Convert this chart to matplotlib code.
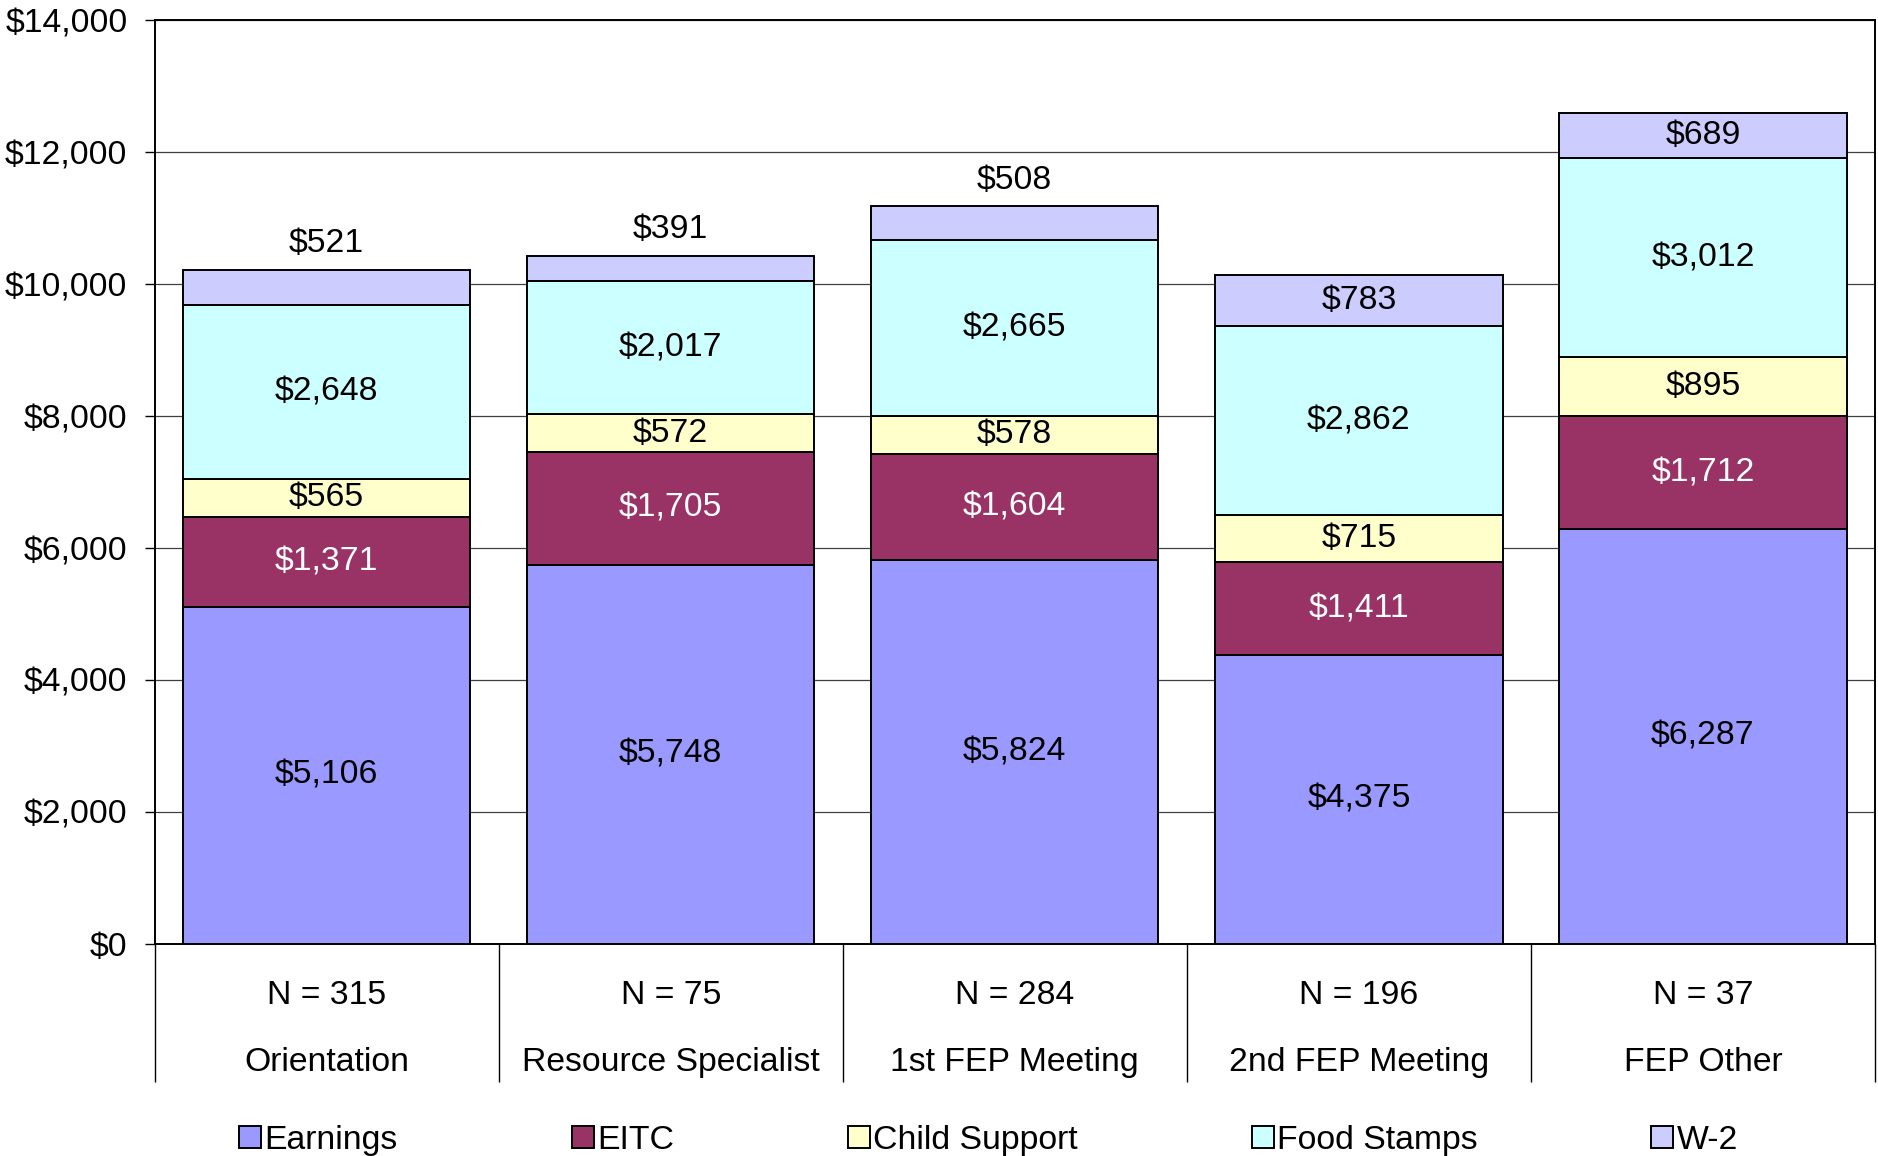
import matplotlib
matplotlib.use("Agg")
import matplotlib.pyplot as plt
from matplotlib.patches import Patch
import numpy as np

plt.rcParams['font.family'] = ['Liberation Sans', 'DejaVu Sans']

categories = ["Orientation", "Resource Specialist", "1st FEP Meeting", "2nd FEP Meeting", "FEP Other"]
n_labels = ["N = 315", "N = 75", "N = 284", "N = 196", "N = 37"]
series_names = ["Earnings", "EITC", "Child Support", "Food Stamps", "W-2"]
earnings = [5106, 5748, 5824, 4375, 6287]
eitc = [1371, 1705, 1604, 1411, 1712]
child_support = [565, 572, 578, 715, 895]
food_stamps = [2648, 2017, 2665, 2862, 3012]
w2 = [521, 391, 508, 783, 689]
y_ticks = [0, 2000, 4000, 6000, 8000, 10000, 12000, 14000]

series = [earnings, eitc, child_support, food_stamps, w2]
colors = ["#9999FF", "#993366", "#FFFFCC", "#CCFFFF", "#CCCCFF"]
label_colors = ["black", "white", "black", "black", "black"]

FS = 24.3
fig = plt.figure(figsize=(18.78, 11.56), dpi=100)
ax = fig.add_axes([0.0823, 0.1836, 0.9161, 0.7988])

x = np.arange(len(categories))
width = 0.835
bottom = np.zeros(len(categories))
for si, (vals, col, lc) in enumerate(zip(series, colors, label_colors)):
    vals = np.array(vals, dtype=float)
    ax.bar(x, vals, width, bottom=bottom, color=col, edgecolor="black",
           linewidth=1.4, zorder=3)
    is_top = si == len(series) - 1
    for xi, b, v in zip(x, bottom, vals):
        if is_top and v < 600:
            ax.annotate(f"${v:,.0f}", xy=(xi, b + v), xytext=(0, 19),
                        textcoords="offset points", ha="center", va="center",
                        fontsize=FS, color="black", zorder=4)
        else:
            ax.text(xi, b + v / 2, f"${v:,.0f}", ha="center", va="center",
                    fontsize=FS, color=lc, zorder=4)
    bottom += vals

ax.set_xlim(-0.5, len(categories) - 0.5)
ax.set_ylim(0, 14000)
ax.set_yticks(y_ticks)
ax.set_yticklabels([f"${v:,.0f}" for v in y_ticks], fontsize=FS)
ax.tick_params(axis="y", length=7.5, width=1.0, pad=12, direction="out")
ax.yaxis.grid(True, color="#404040", linewidth=0.9, zorder=0)
ax.set_axisbelow(True)

# category axis: separators as minor ticks at category boundaries
ax.set_xticks([])
ax.set_xticks(np.arange(len(categories) + 1) - 0.5, minor=True)
ax.tick_params(axis="x", which="minor", length=99, width=1.0, direction="out",
               color="black", labelbottom=False)
for xi, nl, cat in zip(x, n_labels, categories):
    ax.annotate(nl, xy=(xi, 0), xycoords=("data", "axes fraction"),
                xytext=(0, -37), textcoords="offset points",
                ha="center", va="center", fontsize=FS)
    ax.annotate(cat, xy=(xi, 0), xycoords=("data", "axes fraction"),
                xytext=(0, -85.5), textcoords="offset points",
                ha="center", va="center", fontsize=FS)

for s in ax.spines.values():
    s.set_color("black")
    s.set_linewidth(1.4)

handles = [Patch(facecolor=c, edgecolor="black", linewidth=1.4) for c in colors]
fig.legend(handles, series_names, loc="center", bbox_to_anchor=(0.5265, 0.0135),
           ncol=5, frameon=False, fontsize=FS, handlelength=0.65,
           handleheight=0.65, handletextpad=0.1, columnspacing=5.15)

fig.savefig("out.png", dpi=100)
